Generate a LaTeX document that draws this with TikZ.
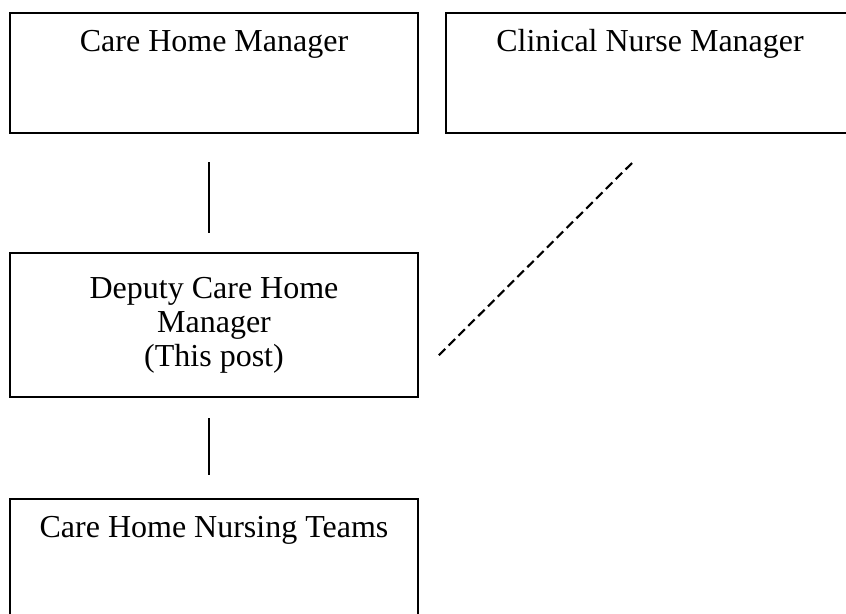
\documentclass[tikz,border=0pt]{standalone}
\usepackage{fontspec}
\setmainfont{Liberation Serif}

\begin{document}
\begin{tikzpicture}[x=0.375pt,y=-0.375pt,
		font=\fontsize{12}{12.75}\selectfont,
		post/.style={draw,line width=0.8pt,minimum width=153pt,inner sep=0pt},
		toptext/.style={anchor=base,yshift=-15pt},
		link/.style={line width=0.8pt}]
		\clip (0,0) rectangle (846,613);
		
		\node[post,minimum height=45pt,label={[toptext]north:Care Home Manager}] (chm) at (214,73) {};
		\node[post,minimum height=45pt,label={[toptext]north:Clinical Nurse Manager}] (cnm) at (650,73) {};
		
		\node[post,minimum height=54pt,align=center] (dchm) at (214,325) {Deputy Care Home\\Manager\\(This post)};
		
		\node[post,minimum height=45pt,label={[toptext]north:Care Home Nursing Teams}] (nurses) at (214,559) {};
		
		% line ends (the lines stop short of the boxes)
		\coordinate (up1) at (209,162);
		\coordinate (up2) at (209,233);
		\coordinate (low1) at (209,418);
		\coordinate (low2) at (209,475);
		\coordinate (dash1) at (632,163);
		\coordinate (dash2) at (437,357);
		
		\draw[link] (up1) -- (up2);
		\draw[link] (low1) -- (low2);
		\draw[link,dash pattern=on 3.4pt off 1.8pt] (dash1) -- (dash2);
		\end{tikzpicture}
\end{document}
